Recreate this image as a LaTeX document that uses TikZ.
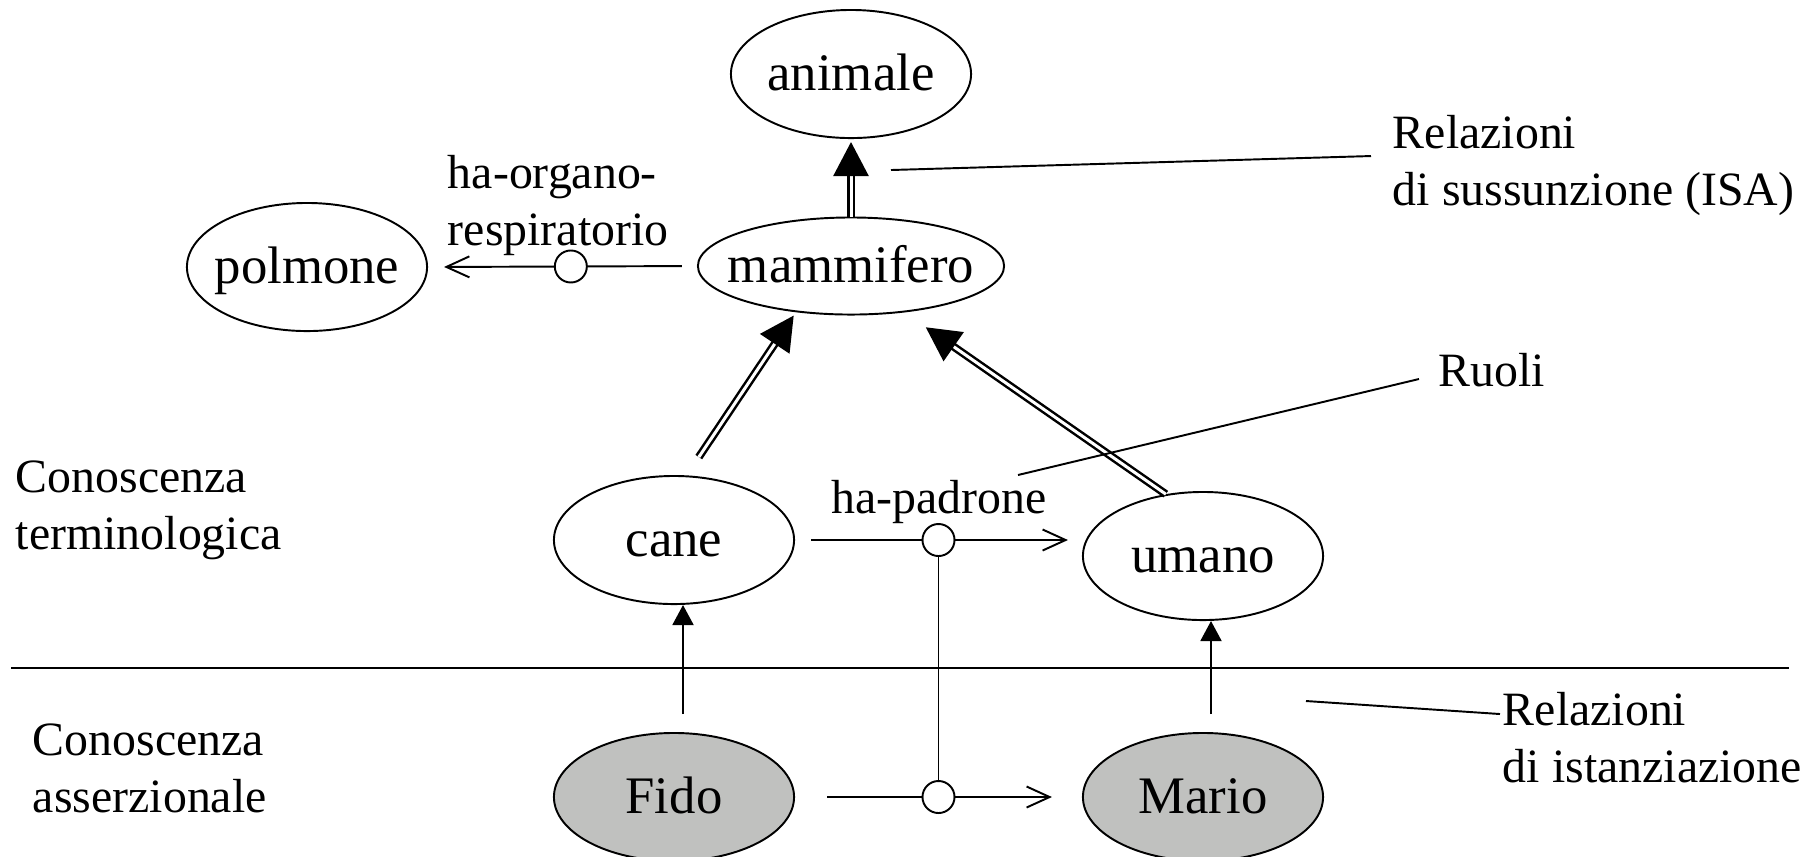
\documentclass[tikz,border=0pt]{standalone}
\usepackage{fontspec}
\setmainfont{Liberation Serif}
\usetikzlibrary{arrows.meta}
\usetikzlibrary{shapes}
\usetikzlibrary{calc}
\definecolor{istanzagray}{RGB}{192,193,191}
\tikzstyle{concetto}=[draw,ellipse,minimum width=2.4cm,minimum height=1.28cm,inner sep=0pt,text height=0.33cm,text depth=0pt,font=\fontsize{15}{18}\selectfont]
\newcommand{\etichetta}[1]{\makebox[0pt]{#1}}

\begin{document}
\begin{tikzpicture}[x=0.01cm,y=-0.01cm,line width=0.55pt]
	\tikzstyle{istanza}=[concetto,fill=istanzagray]
	\tikzstyle{nodo}=[draw,circle,fill=white,minimum size=0.32cm,inner sep=0pt]
	\tikzstyle{isa}=[double,double distance=0.03cm,line width=0.025cm,-{Triangle[length=0.34cm,width=0.35cm]}]
	\tikzstyle{ruolo}=[-{Straight Barb[length=0.23cm,width=0.21cm]}]
	\tikzstyle{inst}=[-{Triangle[length=0.2cm,width=0.21cm]}]
	\tikzstyle{nota}=[inner sep=0pt,align=left,font=\fontsize{13.6}{16.2}\selectfont]
	\useasboundingbox (0,0) rectangle (1820,856);
	% concetti
	\node [concetto] (animale) at (851,74) {\etichetta{animale}};
	\node [concetto,minimum width=3.06cm,minimum height=0.97cm] (mammifero) at (851,266) {\etichetta{mammifero}};
	\node [concetto] (polmone) at (307,267) {\etichetta{polmone}};
	\node [concetto] (cane) at (674,540) {\etichetta{cane}};
	\node [concetto] (umano) at (1203,556) {\etichetta{umano}};
	% individui
	\node [istanza] (fido) at (674,797) {\etichetta{Fido}};
	\node [istanza] (mario) at (1203,797) {\etichetta{Mario}};
	% ISA
	\draw [isa,shorten >=0.03cm] (mammifero.north) -- (animale.south);
	\draw [isa,shorten <=0.22cm,shorten >=0.04cm] (cane.79) -- (mammifero.220);
	\draw [isa,shorten >=0.26cm] (umano.121) -- (mammifero.-41);
	% ruoli
	\draw [ruolo,shorten <=0.15cm,shorten >=0.16cm] (mammifero.west) -- node[nodo,pos=0.469] (r1) {} (polmone.east);
	\draw [ruolo,shorten <=0.16cm,shorten >=0.14cm] (cane.east) -- node[nodo] (r2) {} (cane.east -| umano.west);
	\draw [ruolo,shorten <=0.32cm,shorten >=0.30cm] (fido.east) -- node[nodo] (r3) {} (mario.west);
	\draw (r2) -- (r3);
	% istanziazione
	\draw [inst,shorten <=0.18cm] ([xshift=0.09cm]fido.north) -- ([xshift=0.09cm]cane.south);
	\draw [inst,shorten <=0.18cm] ([xshift=0.08cm]mario.north) -- ([xshift=0.08cm]umano.south);
	\coordinate (sep-l) at (11,668);
	\coordinate (sep-r) at (1789,668);
	\draw (sep-l) -- (sep-r);
	% testi
	\node [nota,anchor=north west] (termin) at (15,460) {Conoscenza\\terminologica};
	\node [nota,anchor=north west] (asser) at (32,723) {Conoscenza\\asserzionale};
	\node [nota,anchor=north west] (isa-lbl) at (1392,114) {Relazioni\\di sussunzione (ISA)};
	\node [nota,anchor=base west] (ruoli-lbl) at (1438,386) {Ruoli};
	\node [nota,anchor=north west] (ist-lbl) at (1502,691) {Relazioni\\di istanziazione};
	\node [nota,anchor=north west] (organo-lbl) at (447,154) {ha-organo-\\respiratorio};
	\node [nota,anchor=base] (padrone-lbl) at (939,513) {ha-padrone};
	\coordinate (isa-pt) at (891,170);
	\draw (isa-pt) -- ([xshift=-0.21cm,yshift=-0.42cm]isa-lbl.north west);
	\coordinate (ruoli-pt) at (1018,475);
	\draw (ruoli-pt) -- ([xshift=-0.19cm,yshift=0.07cm]ruoli-lbl.base west);
	\coordinate (ist-pt) at (1306,701);
	\draw (ist-pt) -- ([xshift=-0.02cm,yshift=-0.23cm]ist-lbl.north west);
\end{tikzpicture}
\end{document}
